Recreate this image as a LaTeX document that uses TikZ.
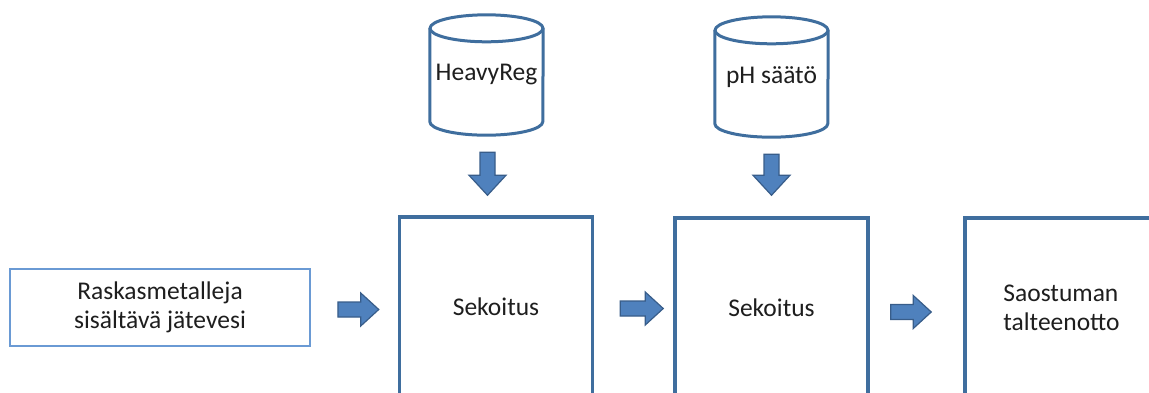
\documentclass[tikz,border=0pt]{standalone}
\usepackage{fontspec}
\setmainfont{Carlito}
\usetikzlibrary{calc}

\definecolor{boxline}{HTML}{3F6E9E}
\definecolor{feedline}{HTML}{6A9AD4}
\definecolor{arrowfill}{HTML}{4F81BD}
\definecolor{arrowline}{HTML}{385D8A}
\definecolor{txt}{HTML}{1E1E1E}

\tikzset{
  label font/.style={font=\fontsize{25.5}{29}\selectfont, text=txt},
  feedbox/.style={draw=feedline, line width=1.8pt, minimum width=300pt,
    minimum height=77pt, inner sep=0pt, align=center, label font},
  mixbox/.style={draw=boxline, line width=3.5pt, minimum width=193pt,
    minimum height=180pt, inner sep=0pt, label font},
  tankbox/.style={minimum width=113pt, minimum height=120pt, inner sep=0pt,
    label font},
  tankline/.style={draw=boxline, line width=3pt},
  blockarrow/.style={fill=arrowfill, draw=arrowline, line width=1.2pt,
    line join=miter},
}

% horizontal block arrow from tail point #1 to tip point #2
\newcommand\hblockarrow[2]{%
  \path[blockarrow] let \p1=(#1), \p2=(#2) in
    (\x1,\y1+7.5pt) -- (\x2-18pt,\y1+7.5pt) -- (\x2-18pt,\y1+16.5pt)
    -- (\x2,\y1) -- (\x2-18pt,\y1-16.5pt) -- (\x2-18pt,\y1-7.5pt)
    -- (\x1,\y1-7.5pt) -- cycle;}
% downward block arrow from tail point #1 to tip point #2
\newcommand\vblockarrow[2]{%
  \path[blockarrow] let \p1=(#1), \p2=(#2) in
    (\x1-7.5pt,\y1) -- (\x1-7.5pt,\y2+20pt) -- (\x1-18.5pt,\y2+20pt)
    -- (\x1,\y2) -- (\x1+18.5pt,\y2+20pt) -- (\x1+7.5pt,\y2+20pt)
    -- (\x1+7.5pt,\y1) -- cycle;}
% cylinder outline drawn around a tank node
\newcommand\tankoutline[1]{%
  \draw[tankline] ([yshift=-13.5pt]#1.north west)
    -- ([yshift=13.5pt]#1.south west)
    arc[start angle=180, end angle=360, x radius=56.5pt, y radius=13.5pt]
    -- ([yshift=-13.5pt]#1.north east);
  \draw[tankline] ([yshift=-13.5pt]#1.north)
    ellipse[x radius=56.5pt, y radius=13.5pt];}

\begin{document}
\begin{tikzpicture}[x=1pt, y=1pt]
  \clip (0,0) rectangle (1149,-392);
  \fill[white] (0,0) rectangle (1149,-392);

  % process chain
  \node[feedbox] (feed) at (160,-307.5) {Raskasmetalleja\\sisältävä jätevesi};
  \node[mixbox] (mix1) at (496,-307) {Sekoitus};
  \node[mixbox] (mix2) at (771.5,-308) {Sekoitus};
  \node[mixbox, align=left] (recov) at (1061.5,-308) {Saostuman\\talteenotto};

  % chemical tanks
  \node[tankbox] (tank1) at (486.5,-75) {HeavyReg};
  \node[tankbox] (tank2) at (771.5,-77) {pH säätö};
  \tankoutline{tank1}
  \tankoutline{tank2}

  % arrow end points
  \coordinate (a1s) at ($(feed.east)+(27,-2)$);
  \coordinate (a1e) at ($(mix1.west)+(-19,-2)$);
  \coordinate (a2s) at ($(mix1.east)+(26,-1.5)$);
  \coordinate (a2e) at ($(mix2.west)+(-10,-1.5)$);
  \coordinate (a3s) at ($(mix2.east)+(21,-4)$);
  \coordinate (a3e) at ($(recov.west)+(-32,-4)$);
  \coordinate (d1s) at ($(tank1.south)+(1,-17)$);
  \coordinate (d1e) at ($(tank1.south |- mix1.north)+(1,20)$);
  \coordinate (d2s) at ($(tank2.south)+(0,-17)$);
  \coordinate (d2e) at ($(tank2.south |- mix2.north)+(0,21)$);

  \hblockarrow{a1s}{a1e}
  \hblockarrow{a2s}{a2e}
  \hblockarrow{a3s}{a3e}
  \vblockarrow{d1s}{d1e}
  \vblockarrow{d2s}{d2e}
\end{tikzpicture}
\end{document}
